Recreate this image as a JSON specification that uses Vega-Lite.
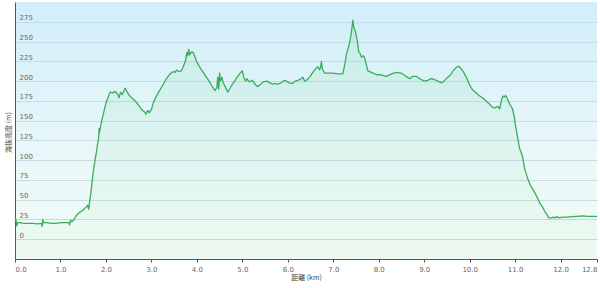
{
  "$schema": "https://vega.github.io/schema/vega-lite/v6.json",
  "width": 582,
  "height": 257,
  "autosize": {"type": "none"},
  "padding": {"left": 15, "top": 2, "right": 3, "bottom": 29},
  "background": "white",
  "config": {
    "view": {
      "stroke": null,
      "fill": {"gradient": "linear", "x1": 0, "y1": 0, "x2": 0, "y2": 1,
        "stops": [{"offset": 0, "color": "#d0eefa"}, {"offset": 0.55, "color": "#e8f7f9"}, {"offset": 1, "color": "#f3fcf6"}]}
    }
  },
  "data": {"values": [
    {"km":0.00,"elev":22},{"km":0.02,"elev":25},{"km":0.04,"elev":17},{"km":0.06,"elev":21},{"km":0.10,"elev":21},
    {"km":0.2,"elev":20},{"km":0.3,"elev":20},{"km":0.4,"elev":20},{"km":0.5,"elev":19.5},{"km":0.58,"elev":20},
    {"km":0.60,"elev":16},{"km":0.61,"elev":25},{"km":0.63,"elev":21},{"km":0.7,"elev":21},{"km":0.8,"elev":20},
    {"km":0.9,"elev":20},{"km":1.0,"elev":21},{"km":1.1,"elev":21},{"km":1.18,"elev":21},{"km":1.20,"elev":18},
    {"km":1.22,"elev":24},{"km":1.25,"elev":22},{"km":1.30,"elev":25},{"km":1.35,"elev":30},{"km":1.40,"elev":33},
    {"km":1.45,"elev":35},{"km":1.50,"elev":37},{"km":1.55,"elev":40},{"km":1.60,"elev":43},{"km":1.62,"elev":38},
    {"km":1.64,"elev":47},{"km":1.67,"elev":59},{"km":1.70,"elev":75},{"km":1.72,"elev":85},{"km":1.76,"elev":100},
    {"km":1.79,"elev":110},{"km":1.82,"elev":122},{"km":1.84,"elev":128},{"km":1.85,"elev":140},{"km":1.86,"elev":135},
    {"km":1.90,"elev":148},{"km":1.95,"elev":160},{"km":2.00,"elev":172},{"km":2.05,"elev":180},{"km":2.09,"elev":186},
    {"km":2.15,"elev":185},{"km":2.20,"elev":187},{"km":2.25,"elev":184},{"km":2.29,"elev":179},{"km":2.32,"elev":186},
    {"km":2.36,"elev":183},{"km":2.42,"elev":191},{"km":2.46,"elev":187},{"km":2.50,"elev":183},{"km":2.53,"elev":181},
    {"km":2.58,"elev":178},{"km":2.64,"elev":175},{"km":2.70,"elev":171},{"km":2.75,"elev":167},{"km":2.80,"elev":163},
    {"km":2.85,"elev":161},{"km":2.88,"elev":158},{"km":2.92,"elev":163},{"km":2.95,"elev":160},{"km":3.00,"elev":164},
    {"km":3.02,"elev":168},{"km":3.05,"elev":174},{"km":3.11,"elev":181},{"km":3.18,"elev":188},{"km":3.26,"elev":196},
    {"km":3.33,"elev":203},{"km":3.41,"elev":209},{"km":3.48,"elev":212},{"km":3.52,"elev":211},{"km":3.55,"elev":214},
    {"km":3.60,"elev":212},{"km":3.66,"elev":213},{"km":3.70,"elev":218},{"km":3.75,"elev":226},{"km":3.78,"elev":236},
    {"km":3.80,"elev":232},{"km":3.82,"elev":240},{"km":3.84,"elev":233},{"km":3.88,"elev":237},{"km":3.92,"elev":236},
    {"km":3.96,"elev":230},{"km":4.00,"elev":224},{"km":4.07,"elev":217},{"km":4.14,"elev":211},{"km":4.21,"elev":205},
    {"km":4.28,"elev":199},{"km":4.34,"elev":193},{"km":4.40,"elev":188},{"km":4.44,"elev":192},{"km":4.46,"elev":205},
    {"km":4.48,"elev":190},{"km":4.50,"elev":210},{"km":4.52,"elev":200},{"km":4.55,"elev":205},{"km":4.58,"elev":198},
    {"km":4.63,"elev":192},{"km":4.68,"elev":186},{"km":4.72,"elev":190},{"km":4.78,"elev":196},{"km":4.84,"elev":201},
    {"km":4.90,"elev":206},{"km":4.95,"elev":210},{"km":5.00,"elev":213},{"km":5.03,"elev":205},{"km":5.07,"elev":200},
    {"km":5.10,"elev":203},{"km":5.15,"elev":199},{"km":5.22,"elev":201},{"km":5.28,"elev":196},{"km":5.33,"elev":193},
    {"km":5.40,"elev":196},{"km":5.46,"elev":199},{"km":5.53,"elev":200},{"km":5.60,"elev":198},{"km":5.67,"elev":196},
    {"km":5.72,"elev":197},{"km":5.77,"elev":196},{"km":5.82,"elev":197},{"km":5.88,"elev":199},{"km":5.92,"elev":201},
    {"km":5.97,"elev":200},{"km":6.02,"elev":198},{"km":6.07,"elev":197},{"km":6.11,"elev":197},{"km":6.16,"elev":200},
    {"km":6.22,"elev":201},{"km":6.30,"elev":203},{"km":6.33,"elev":205},{"km":6.37,"elev":200},{"km":6.41,"elev":201},
    {"km":6.48,"elev":205},{"km":6.55,"elev":211},{"km":6.62,"elev":216},{"km":6.66,"elev":218},{"km":6.70,"elev":214},
    {"km":6.72,"elev":218},{"km":6.74,"elev":225},{"km":6.76,"elev":215},{"km":6.81,"elev":210},{"km":6.90,"elev":210},
    {"km":6.99,"elev":210},{"km":7.10,"elev":209},{"km":7.21,"elev":209},{"km":7.25,"elev":220},{"km":7.29,"elev":234},
    {"km":7.33,"elev":242},{"km":7.36,"elev":249},{"km":7.40,"elev":262},{"km":7.43,"elev":277},{"km":7.45,"elev":268},
    {"km":7.49,"elev":262},{"km":7.53,"elev":250},{"km":7.56,"elev":237},{"km":7.59,"elev":235},{"km":7.62,"elev":230},
    {"km":7.66,"elev":232},{"km":7.69,"elev":229},{"km":7.72,"elev":222},{"km":7.76,"elev":213},{"km":7.84,"elev":211},
    {"km":7.95,"elev":208},{"km":8.05,"elev":208},{"km":8.17,"elev":206},{"km":8.28,"elev":209},{"km":8.39,"elev":211},
    {"km":8.50,"elev":210},{"km":8.60,"elev":206},{"km":8.68,"elev":203},{"km":8.75,"elev":206},{"km":8.83,"elev":206},
    {"km":8.90,"elev":203},{"km":9.00,"elev":200},{"km":9.08,"elev":201},{"km":9.15,"elev":203},{"km":9.22,"elev":202},
    {"km":9.30,"elev":200},{"km":9.37,"elev":198},{"km":9.42,"elev":199},{"km":9.50,"elev":204},{"km":9.58,"elev":208},
    {"km":9.65,"elev":214},{"km":9.72,"elev":218},{"km":9.76,"elev":219},{"km":9.82,"elev":215},{"km":9.88,"elev":210},
    {"km":9.95,"elev":202},{"km":10.00,"elev":195},{"km":10.05,"elev":190},{"km":10.10,"elev":187},{"km":10.20,"elev":182},
    {"km":10.30,"elev":178},{"km":10.40,"elev":173},{"km":10.50,"elev":167},{"km":10.55,"elev":166},{"km":10.62,"elev":168},
    {"km":10.66,"elev":165},{"km":10.70,"elev":176},{"km":10.73,"elev":181},{"km":10.77,"elev":180},{"km":10.79,"elev":182},
    {"km":10.84,"elev":176},{"km":10.88,"elev":171},{"km":10.94,"elev":165},{"km":10.98,"elev":155},{"km":11.01,"elev":143},
    {"km":11.06,"elev":127},{"km":11.10,"elev":114},{"km":11.13,"elev":110},{"km":11.16,"elev":105},{"km":11.21,"elev":89},
    {"km":11.28,"elev":76},{"km":11.34,"elev":68},{"km":11.39,"elev":63},{"km":11.45,"elev":57},{"km":11.50,"elev":51},
    {"km":11.55,"elev":45},{"km":11.61,"elev":40},{"km":11.65,"elev":35},{"km":11.69,"elev":32},{"km":11.74,"elev":27},
    {"km":11.80,"elev":27},{"km":11.85,"elev":28},{"km":11.88,"elev":27},{"km":11.93,"elev":29},{"km":11.95,"elev":27},
    {"km":12.04,"elev":28},{"km":12.15,"elev":28},{"km":12.25,"elev":28.5},{"km":12.35,"elev":29},{"km":12.48,"elev":29.5},
    {"km":12.60,"elev":29},{"km":12.70,"elev":29},{"km":12.80,"elev":29}
  ]},
  "encoding": {
    "x": {
      "field": "km", "type": "quantitative",
      "scale": {"domain": [0, 12.8], "nice": false, "zero": false},
      "axis": {
        "values": [0,1,2,3,4,5,6,7,8,9,10,11,12,12.8],
        "format": ".1f",
        "grid": false,
        "domainColor": "#555555",
        "tickColor": "#555555",
        "tickSize": 3,
        "labelFlush": true,
        "labelPadding": 3,
        "labelFont": "DejaVu Sans",
        "labelFontSize": 7,
        "labelColor": "#666666",
        "title": "距離 (km)",
        "titleFont": "Noto Sans CJK JP",
        "titleFontSize": 7,
        "titleFontWeight": "normal",
        "titleColor": "#444444",
        "titleY": 18,
        "titleBaseline": "middle"
      }
    },
    "y": {
      "field": "elev", "type": "quantitative",
      "scale": {"domain": [-25, 300], "nice": false, "zero": false},
      "axis": {
        "values": [0,25,50,75,100,125,150,175,200,225,250,275],
        "grid": true,
        "gridColor": "#c6dbe4",
        "gridWidth": 1,
        "ticks": false,
        "domainColor": "#555555",
        "labelAlign": "left",
        "labelPadding": -4,
        "labelBaseline": "alphabetic",
        "labelOffset": -2,
        "labelFont": "DejaVu Sans",
        "labelFontSize": 7,
        "labelColor": "#666666",
        "title": "海抜高度 (m)",
        "titleFont": "Noto Sans CJK JP",
        "titleFontSize": 7,
        "titleFontWeight": "normal",
        "titleColor": "#444444",
        "titleAngle": -90,
        "titleX": -7,
        "titleY": 130,
        "titleAlign": "center",
        "titleBaseline": "middle"
      }
    }
  },
  "layer": [
    {
      "mark": {
        "type": "area",
        "color": {"gradient": "linear", "x1": 0, "y1": 0, "x2": 0, "y2": 1,
          "stops": [{"offset": 0, "color": "rgba(80,200,110,0.11)"}, {"offset": 1, "color": "rgba(80,200,110,0.03)"}]}
      },
      "encoding": {"y2": {"datum": -25}}
    },
    {
      "mark": {"type": "line", "color": "#3aad59", "strokeWidth": 1.3, "strokeJoin": "round"}
    }
  ]
}
